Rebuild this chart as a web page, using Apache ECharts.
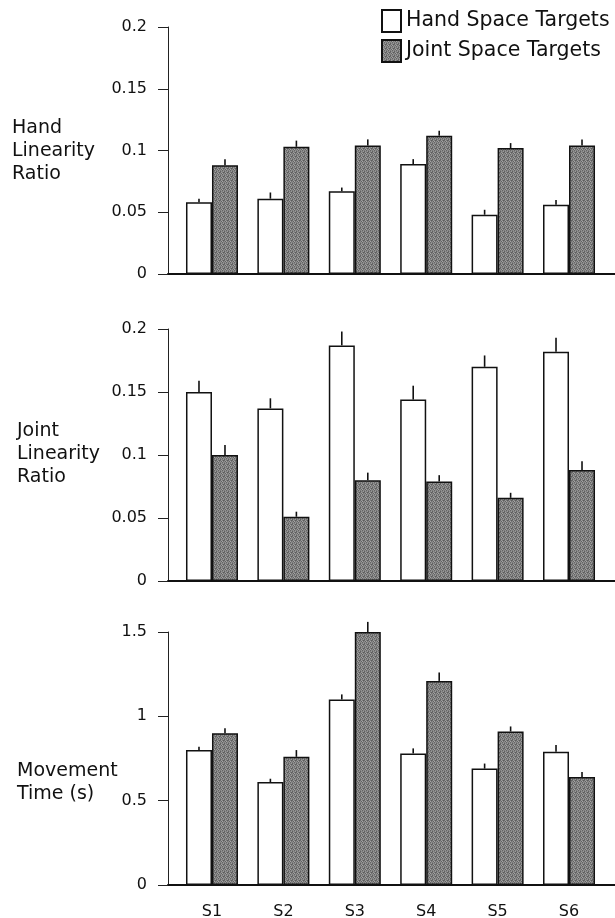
<!DOCTYPE html>
<html>
<head>
<meta charset="utf-8">
<script src="https://cdn.jsdelivr.net/npm/echarts@6/dist/echarts.min.js"></script>
<style>
  html, body { margin: 0; padding: 0; background: #fff; }
  #chart { width: 615px; height: 918px; }
</style>
</head>
<body>
<div id="chart"></div>
<script>
// subjects
const subjects = ['S1', 'S2', 'S3', 'S4', 'S5', 'S6']
const subjectPos = [1, 2, 3, 4, 5, 6]
const legendNames = ['Hand Space Targets', 'Joint Space Targets']

// Hand linearity ratio
const handLinHand = [0.058, 0.061, 0.067, 0.089, 0.048, 0.056]
const handLinHandErr = [0.003, 0.005, 0.003, 0.004, 0.004, 0.004]
const handLinJoint = [0.088, 0.103, 0.104, 0.112, 0.102, 0.104]
const handLinJointErr = [0.005, 0.005, 0.005, 0.004, 0.004, 0.005]

// Joint linearity ratio
const jointLinHand = [0.150, 0.137, 0.187, 0.144, 0.170, 0.182]
const jointLinHandErr = [0.009, 0.008, 0.011, 0.011, 0.009, 0.011]
const jointLinJoint = [0.100, 0.051, 0.080, 0.079, 0.066, 0.088]
const jointLinJointErr = [0.008, 0.004, 0.006, 0.005, 0.004, 0.007]

// Movement time (s)
const mtHand = [0.80, 0.61, 1.10, 0.78, 0.69, 0.79]
const mtHandErr = [0.02, 0.02, 0.03, 0.03, 0.03, 0.04]
const mtJoint = [0.90, 0.76, 1.50, 1.21, 0.91, 0.64]
const mtJointErr = [0.03, 0.04, 0.06, 0.05, 0.03, 0.03]

const panels = [
  { title: 'Hand\nLinearity\nRatio', max: 0.2, interval: 0.05, hand: handLinHand, handErr: handLinHandErr, joint: handLinJoint, jointErr: handLinJointErr },
  { title: 'Joint\nLinearity\nRatio', max: 0.2, interval: 0.05, hand: jointLinHand, handErr: jointLinHandErr, joint: jointLinJoint, jointErr: jointLinJointErr },
  { title: 'Movement\nTime (s)', max: 1.5, interval: 0.5, hand: mtHand, handErr: mtHandErr, joint: mtJoint, jointErr: mtJointErr },
]

// layout
const gridTops = [27, 329, 632]
const gridHeights = [247, 252, 253]
const titleTops = [117, 420, 760]
const titleLefts = [12, 17, 17]
const barW = 26

// stippled grey texture
const tex = document.createElement('canvas')
tex.width = 4
tex.height = 4
const tctx = tex.getContext('2d')
const texCols = ['#6a6a6a', '#9c9c9c', '#7c7c7c', '#5c5c5c',
                 '#8e8e8e', '#626262', '#a6a6a6', '#747474',
                 '#7a7a7a', '#949494', '#646464', '#8c8c8c',
                 '#606060', '#888888', '#7e7e7e', '#9a9a9a']
texCols.forEach((c, i) => {
  tctx.fillStyle = c
  tctx.fillRect(i % 4, Math.floor(i / 4), 1, 1)
})
const greyFill = { image: tex, repeat: 'repeat' }

const font = 'DejaVu Sans, sans-serif'
const chart = echarts.init(document.getElementById('chart'))

const grid = [], xAxis = [], yAxis = [], series = [], title = []

function errBars(vals, errs, side, idx) {
  return {
    type: 'custom',
    xAxisIndex: idx,
    yAxisIndex: idx,
    silent: true,
    z: 1,
    data: subjectPos.map((x, i) => [x, vals[i], vals[i] + errs[i]]),
    renderItem: (params, api) => {
      const lo = api.coord([api.value(0), api.value(1)])
      const hi = api.coord([api.value(0), api.value(2)])
      const x = lo[0] + side * barW / 2
      return {
        type: 'line',
        shape: { x1: x, y1: lo[1], x2: x, y2: hi[1] },
        style: { stroke: '#111', lineWidth: 1.6 },
      }
    },
  }
}

panels.forEach((p, idx) => {
  grid.push({ left: 168, right: 0, top: gridTops[idx], height: gridHeights[idx], outerBoundsMode: 'none' })
  xAxis.push({
    type: 'value',
    gridIndex: idx,
    min: 0.384,
    max: 6.644,
    splitLine: { show: false },
    axisTick: { show: false },
    axisLine: { show: true, onZero: false, lineStyle: { color: '#111', width: 2 } },
    axisLabel: {
      show: idx === 2,
      customValues: subjectPos,
      formatter: (v) => subjects[subjectPos.indexOf(Math.round(v))] || '',
      color: '#111',
      fontFamily: font,
      fontSize: 16,
      margin: 19,
    },
  })
  yAxis.push({
    type: 'value',
    gridIndex: idx,
    min: 0,
    max: p.max,
    interval: p.interval,
    splitLine: { show: false },
    axisLine: { show: true, lineStyle: { color: '#222', width: 1 } },
    axisTick: { show: true, length: 10, lineStyle: { color: '#222', width: 1 } },
    axisLabel: { color: '#111', fontFamily: font, fontSize: 16, margin: 21 },
  })
  title.push({
    text: p.title,
    left: titleLefts[idx],
    top: titleTops[idx],
    padding: 0,
    textStyle: { fontFamily: font, fontSize: 19, fontWeight: 'normal', color: '#111', lineHeight: 23 },
  })
  series.push({
    name: legendNames[0],
    type: 'bar',
    xAxisIndex: idx,
    yAxisIndex: idx,
    barWidth: barW,
    barGap: '0%',
    data: subjectPos.map((x, i) => [x, p.hand[i]]),
    itemStyle: { color: '#fff', borderColor: '#111', borderWidth: 1.5 },
    z: 2,
  })
  series.push({
    name: legendNames[1],
    type: 'bar',
    xAxisIndex: idx,
    yAxisIndex: idx,
    barWidth: barW,
    barGap: '0%',
    data: subjectPos.map((x, i) => [x, p.joint[i]]),
    itemStyle: { color: greyFill, borderColor: '#111', borderWidth: 1.5 },
    z: 2,
  })
  series.push(errBars(p.hand, p.handErr, -1, idx))
  series.push(errBars(p.joint, p.jointErr, 1, idx))
})

chart.setOption({
  animation: false,
  backgroundColor: '#fff',
  title,
  legend: {
    data: legendNames,
    orient: 'vertical',
    left: 381,
    top: 9,
    padding: 0,
    itemWidth: 19,
    itemHeight: 22,
    itemGap: 6,
    icon: 'rect',
    textStyle: { fontFamily: font, fontSize: 20.5, color: '#111', padding: [0, 0, 0, 0] },
  },
  grid,
  xAxis,
  yAxis,
  series,
})
</script>
</body>
</html>
